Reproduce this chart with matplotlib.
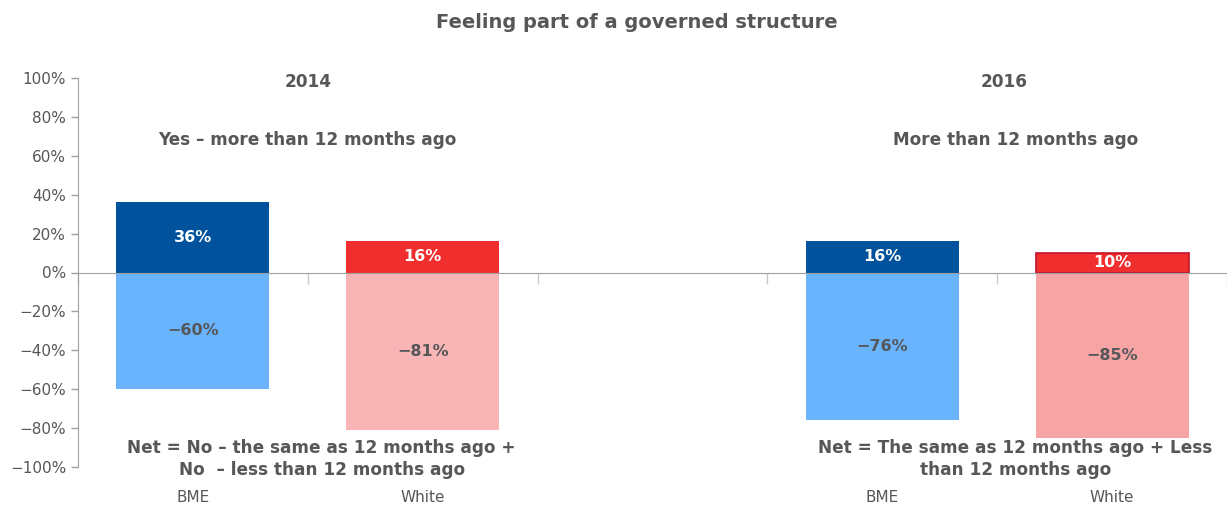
import matplotlib.pyplot as plt
from matplotlib.transforms import blended_transform_factory

plt.rcParams['font.family'] = ['DejaVu Sans']

# categories along the x axis (empty slot separates the two years)
groups = ['BME', 'White', '', 'BME', 'White']
positions = [0, 1, 3, 4]
labels = ['BME', 'White', 'BME', 'White']

# percentages
yes_vals = [36, 16, 16, 10]
net_vals = [-60, -81, -76, -85]

top_colors = ['#00529c', '#f02e2e', '#00529c', '#f02e2e']
bottom_colors = ['#6ab4fe', '#f9b5b5', '#6ab4fe', '#f6a4a4']
top_edges = ['none', 'none', 'none', '#c0142a']

grey = '#555759'

fig = plt.figure(figsize=(12.27, 5.05), dpi=100)
ax = fig.add_axes([78 / 1227, 1 - 467 / 505, 1 - 78 / 1227, (467 - 78) / 505])

w = 0.665
for i, x in enumerate(positions):
    ax.bar(x, yes_vals[i], width=w, color=top_colors[i],
           edgecolor=top_edges[i], linewidth=1.2, zorder=2)
    ax.bar(x, net_vals[i], width=w, color=bottom_colors[i], zorder=2)
    ax.text(x, yes_vals[i] / 2, f'{yes_vals[i]}%', ha='center', va='center',
            color='white', fontsize=11.5, fontweight='bold', zorder=3)
    ax.text(x, net_vals[i] / 2, f'{net_vals[i]}%'.replace('-', '\u2212'),
            ha='center', va='center', color=grey, fontsize=11.5,
            fontweight='bold', zorder=3)

ax.set_xlim(-0.5, -0.5 + (1227 - 78) / 232)
ax.set_ylim(-100, 100)
ax.set_yticks(range(-100, 101, 20))
ax.set_yticklabels([f'{v}%'.replace('-', '\u2212') for v in range(-100, 101, 20)])
ax.tick_params(axis='y', colors=grey, labelsize=11, length=5, width=1,
               labelcolor=grey)

# x axis drawn through zero, ticks between categories
ax.spines['top'].set_visible(False)
ax.spines['right'].set_visible(False)
ax.spines['bottom'].set_position(('data', 0))
for s in ('left', 'bottom'):
    ax.spines[s].set_color('#a0a0a0')
ax.tick_params(axis='y', color='#a0a0a0')
ax.set_xticks([i - 0.5 for i in range(len(groups) + 1)])
ax.set_xticklabels([])
ax.tick_params(axis='x', length=8, width=1, color='#c8c8c8', direction='out')

trans = blended_transform_factory(ax.transData, fig.transFigure)
for x, lab in zip(positions, labels):
    ax.text(x, 1 - 497 / 505, lab, transform=trans, ha='center', va='center',
            color=grey, fontsize=11)

bold = dict(color=grey, fontsize=12.2, fontweight='bold', ha='center',
            va='center')
ax.text(0.5, 98, '2014', **bold)
ax.text(0.5, 68, 'Yes \u2013 more than 12 months ago', **bold)
ax.text(3.53, 98, '2016', **bold)
ax.text(3.58, 68, 'More than 12 months ago', **bold)
ax.text(0.56, -96, 'Net = No \u2013 the same as 12 months ago +\n'
        'No  \u2013 less than 12 months ago', linespacing=1.3, **bold)
ax.text(3.58, -96, 'Net = The same as 12 months ago + Less\n'
        'than 12 months ago', linespacing=1.3, **bold)

fig.text(637 / 1227, 1 - 23 / 505, 'Feeling part of a governed structure',
         ha='center', va='center', color=grey, fontsize=14, fontweight='bold')

fig.savefig('out.png', dpi=100)
